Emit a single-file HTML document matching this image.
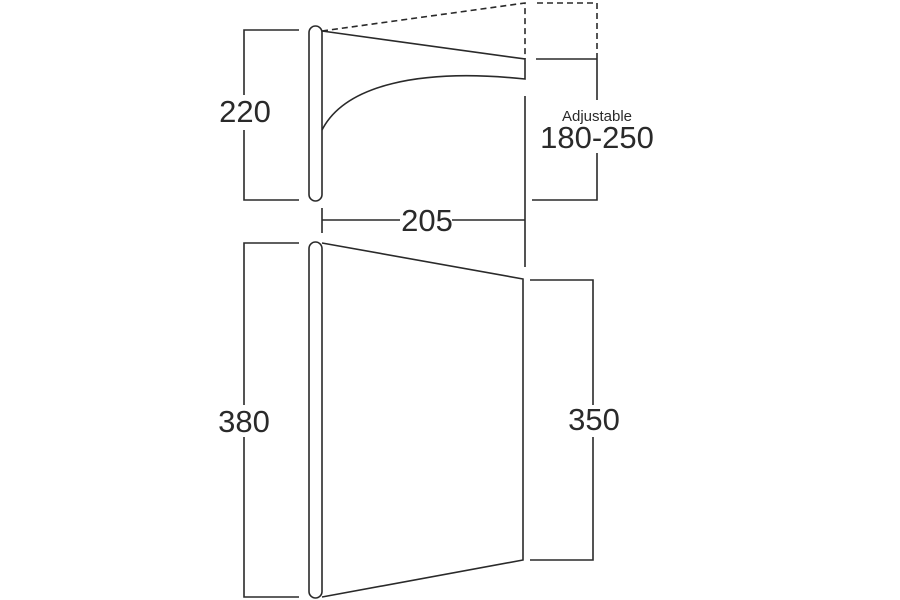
<!DOCTYPE html>
<html><head><style>
html,body{margin:0;padding:0;background:#fff;}
svg{display:block;}
text{font-family:"Liberation Sans",sans-serif;fill:#2a2a2a;}
</style></head><body>
<svg width="900" height="600" viewBox="0 0 900 600" xmlns="http://www.w3.org/2000/svg">
<g fill="none" stroke="#2a2a2a" stroke-width="1.6">
<rect x="309" y="26" width="13" height="175" rx="6.5"/>
<path d="M322 31 L525 59 L525 79 C420 68 345 85 322 130"/>
<path d="M322 31 L525 3 L525 59 M537 3 L597 3 L597 55" stroke-dasharray="6 4"/>
<path d="M597 55 L597 100 M597 153 L597 200 L532 200 M536 59 L597 59"/>
<path d="M299 30 L244 30 L244 95 M244 130 L244 200 L299 200"/>
<path d="M322 208 L322 233 M322 220 L400 220 M452 220 L525 220 M525 96 L525 267"/>
<rect x="309" y="242" width="13" height="356" rx="6.5"/>
<path d="M322 243 L523 279 L523 560 L322 597"/>
<path d="M299 243 L244 243 L244 405 M244 437 L244 597 L299 597"/>
<path d="M530 280 L593 280 L593 405 M593 437 L593 560 L530 560"/>
</g>
<text x="245" y="122" font-size="31" text-anchor="middle">220</text>
<text x="427" y="231" font-size="31" text-anchor="middle">205</text>
<text x="597" y="121" font-size="15" text-anchor="middle">Adjustable</text>
<text x="597" y="148" font-size="31" text-anchor="middle">180-250</text>
<text x="244" y="432" font-size="31" text-anchor="middle">380</text>
<text x="594" y="430" font-size="31" text-anchor="middle">350</text>
</svg>
</body></html>
